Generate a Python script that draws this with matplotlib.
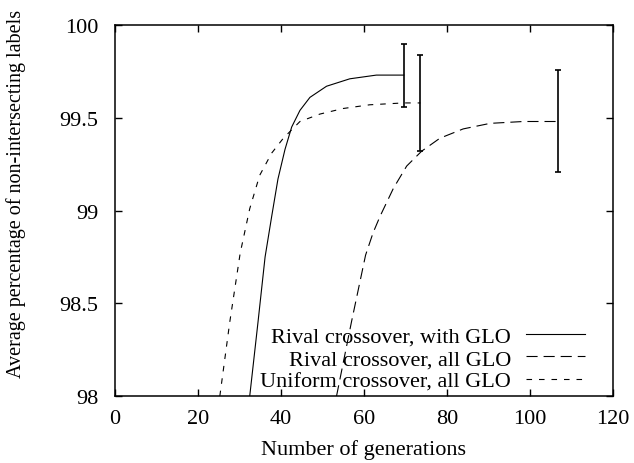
import matplotlib
matplotlib.use('Agg')
import matplotlib.pyplot as plt

# values
with_glo_x = [32.5, 34.5, 36.2, 37.8, 39.3, 41.0, 42.6, 44.6, 47.0, 51.0, 56.6, 63.0, 69.6]
with_glo_y = [98.0, 98.40, 98.75, 98.97, 99.17, 99.33, 99.45, 99.54, 99.61, 99.67, 99.71, 99.73, 99.73]

rival_all_x = [53.4, 57.0, 60.4, 62.2, 63.9, 67.1, 70.3, 73.9, 78.3, 83.9, 90.4, 98.4, 106.8]
rival_all_y = [98.0, 98.40, 98.76, 98.88, 98.97, 99.12, 99.24, 99.32, 99.39, 99.44, 99.47, 99.48, 99.48]

uniform_all_x = [25.3, 27.7, 30.2, 32.5, 34.9, 37.8, 40.6, 44.6, 49.4, 55.0, 61.4, 69.5, 73.6]
uniform_all_y = [98.0, 98.40, 98.77, 99.01, 99.19, 99.31, 99.39, 99.48, 99.52, 99.55, 99.57, 99.58, 99.58]

# end points with error bars
err_x = [69.6, 106.8, 73.6]
err_y = [99.73, 99.48, 99.58]
err_lo = [99.56, 99.21, 99.32]
err_hi = [99.90, 99.76, 99.84]

labels = ['Rival crossover, with GLO', 'Rival crossover, all GLO',
          'Uniform crossover, all GLO']
xticks = [0, 20, 40, 60, 80, 100, 120]
yticks = [98, 98.5, 99, 99.5, 100]
ytick_labels = ['98', '98.5', '99', '99.5', '100']

plt.rcParams['font.family'] = ['Liberation Serif', 'DejaVu Serif']
plt.rcParams['font.size'] = 16
plt.rcParams['lines.scale_dashes'] = False

fig, ax = plt.subplots(figsize=(6.34, 4.64), dpi=100)
fig.subplots_adjust(left=0.181, right=0.967, top=0.944, bottom=0.144)

ax.plot(with_glo_x, with_glo_y, color='black', lw=0.8, linestyle='-', label=labels[0])
ax.plot(rival_all_x, rival_all_y, color='black', lw=0.8, linestyle=(0, (8, 4.3)), label=labels[1])
ax.plot(uniform_all_x, uniform_all_y, color='black', lw=0.8, linestyle=(0, (4, 5)), label=labels[2])

yerr = [[v - lo for v, lo in zip(err_y, err_lo)], [hi - v for v, hi in zip(err_y, err_hi)]]
ax.errorbar(err_x, err_y, yerr=yerr, fmt='none', ecolor='black', elinewidth=1.2,
            capsize=2.5, capthick=1.2)

ax.set_xlim(0, 120)
ax.set_ylim(98, 100)
ax.set_xticks(xticks)
ax.set_yticks(yticks)
ax.set_yticklabels(ytick_labels)
ax.tick_params(direction='in', length=5, width=1, top=True, right=True, pad=9)
ax.tick_params(axis='y', pad=12)
for s in ax.spines.values():
    s.set_linewidth(1.1)

ax.set_xlabel('Number of generations', labelpad=8)
ax.set_ylabel('Average percentage of non-intersecting labels', fontsize=14.5)
ax.yaxis.set_label_coords(-0.178, 0.547)

ax.legend(loc='lower right', bbox_to_anchor=(0.98, -0.035), frameon=False, markerfirst=False,
          handlelength=2.65, handletextpad=0.7, labelspacing=0.08, borderpad=0.3)

fig.savefig('out.png', dpi=100)
